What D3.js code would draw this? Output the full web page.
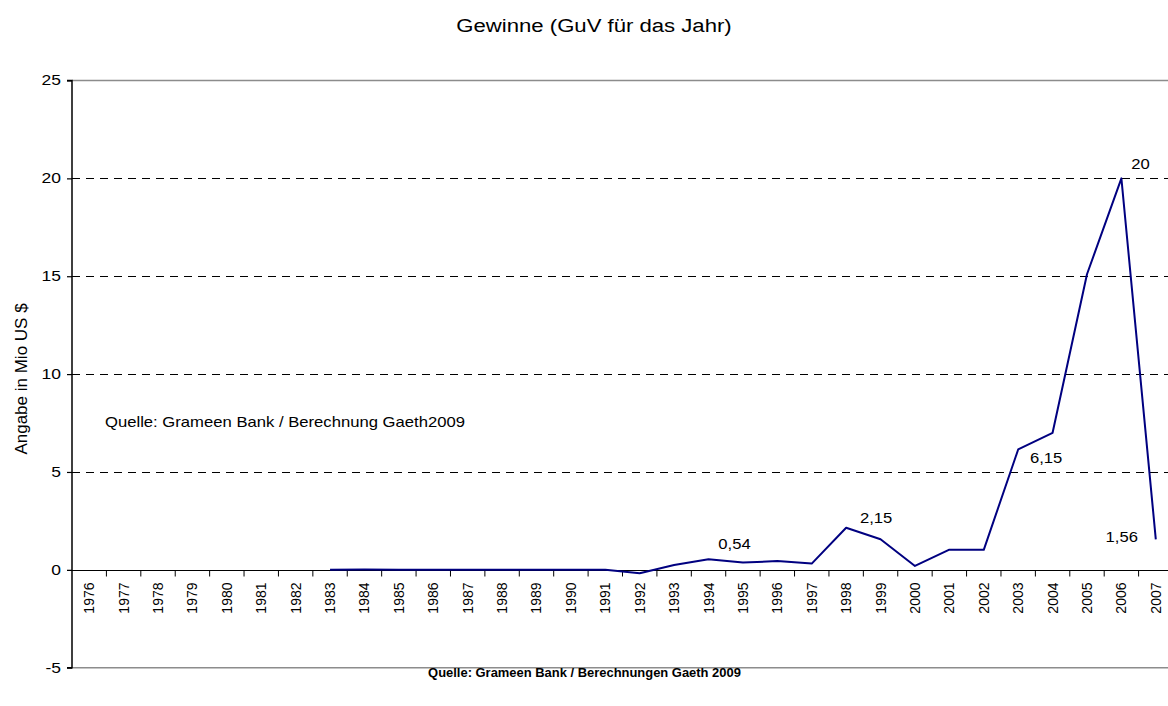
<!DOCTYPE html>
<html>
<head>
<meta charset="utf-8">
<script src="https://cdn.jsdelivr.net/npm/d3@7"></script>
<style>
  html, body { margin: 0; padding: 0; background: #fff; }
  svg { display: block; font-family: "Liberation Sans", Arial, sans-serif; }
</style>
</head>
<body>
<svg id="chart" width="1168" height="706"></svg>
<script>
// Jahre 1976–2007
const years = d3.range(1976, 2008).map(String);

// Gewinn in Mio US $ (null = keine Angabe)
const profits = [
  null, null, null, null, null, null, null,            // 1976–1982
  0.0, 0.02, 0.01, 0.0, 0.0, 0.0, 0.0, 0.0, 0.0,       // 1983–1991
  -0.17, 0.25, 0.54, 0.37, 0.45, 0.32, 2.15, 1.56,     // 1992–1999
  0.2, 1.03, 1.02, 6.15, 7.0, 15.1, 20, 1.56           // 2000–2007
];

// Jahre mit Wertbeschriftung und deren Text
const labelYears = ["1994", "1998", "2003", "2006", "2007"];
const labelTexts = ["0,54", "2,15", "6,15", "20", "1,56"];

const yTicks = [-5, 0, 5, 10, 15, 20, 25];
const gridValues = [5, 10, 15, 20];

const title = "Gewinne (GuV für das Jahr)";
const yTitle = "Angabe in Mio US $";
const noteText = "Quelle: Grameen Bank / Berechnung Gaeth2009";
const footerText = "Quelle: Grameen Bank / Berechnungen Gaeth 2009";

const svg = d3.select("#chart");
const plotLeft = 72, plotRight = 1173, plotTop = 80.5, plotBottom = 667.7;
// horizontale Texte sind etwas breit laufend gesetzt
const wide = 1.19;

const x = d3.scaleBand().domain(years).range([plotLeft, plotRight]).padding(0);
const y = d3.scaleLinear().domain([-5, 25]).range([plotBottom, plotTop]);

function wideText(parent, px, py, txt, size, anchor, sx) {
  return parent.append("text")
    .attr("transform", `translate(${px},${py}) scale(${sx},1)`)
    .attr("text-anchor", anchor)
    .attr("font-size", size)
    .text(txt);
}

// Titel
wideText(svg, 594, 32, title, 18, "middle", 1.23);

// Rahmen oben und unten (grau)
[25, -5].forEach(v => {
  svg.append("line")
    .attr("x1", plotLeft).attr("x2", plotRight)
    .attr("y1", y(v)).attr("y2", y(v))
    .attr("stroke", "#8c8c8c").attr("stroke-width", 1.5);
});

// Gestrichelte Hilfslinien
svg.append("g").selectAll("line").data(gridValues).join("line")
  .attr("x1", plotLeft).attr("x2", plotRight)
  .attr("y1", d => Math.round(y(d)) + 0.5).attr("y2", d => Math.round(y(d)) + 0.5)
  .attr("stroke", "#000").attr("stroke-width", 1)
  .attr("stroke-dasharray", "8,6");

// Y-Achse
const yAxis = d3.axisLeft(y).tickValues(yTicks).tickSize(5).tickPadding(0)
  .tickFormat(d => String(d));
svg.append("g")
  .attr("transform", `translate(${plotLeft},0)`)
  .call(yAxis)
  .call(g => g.select(".domain").attr("stroke", "#000").attr("stroke-width", 1.5)
    .attr("d", `M-5,${plotTop}H0V${plotBottom}H-5`))
  .call(g => g.selectAll("line").attr("stroke", "#000").attr("stroke-width", 1.2))
  .call(g => g.selectAll("text")
    .attr("x", null)
    .attr("transform", `translate(-11,0) scale(${wide + 0.06},1)`)
    .attr("font-size", 14).attr("fill", "#000")
    .attr("font-family", "Liberation Sans, Arial, sans-serif"));

// X-Achse bei 0 mit Teilstrichen an den Kategoriegrenzen
const xAxisG = svg.append("g").attr("transform", `translate(0,${Math.round(y(0)) + 0.5})`);
xAxisG.append("line")
  .attr("x1", plotLeft - 5).attr("x2", plotRight)
  .attr("stroke", "#000").attr("stroke-width", 1.2);
xAxisG.selectAll("line.tick").data(years.slice(1)).join("line")
  .attr("class", "tick")
  .attr("x1", d => x(d)).attr("x2", d => x(d))
  .attr("y1", 0).attr("y2", 6)
  .attr("stroke", "#000").attr("stroke-width", 1);
xAxisG.selectAll("text").data(years).join("text")
  .attr("transform", d => `translate(${x(d) + x.bandwidth() / 2 + 5},${12}) rotate(-90)`)
  .attr("text-anchor", "end")
  .attr("font-size", 14)
  .text(d => d);

// Y-Achsentitel
svg.append("text")
  .attr("transform", `translate(27,379) rotate(-90)`)
  .attr("text-anchor", "middle")
  .attr("font-size", 17)
  .text(yTitle);

// Quellenhinweis im Diagramm
wideText(svg, 105, 427, noteText, 14, "start", wide);

// Gewinnlinie
const series = years.map((yr, i) => ({ year: yr, value: profits[i] }));
const line = d3.line()
  .defined(d => d.value !== null)
  .x(d => x(d.year) + x.bandwidth() / 2)
  .y(d => y(d.value));
svg.append("path")
  .datum(series)
  .attr("fill", "none")
  .attr("stroke", "#000080")
  .attr("stroke-width", 2)
  .attr("stroke-linejoin", "round")
  .attr("d", line);

// Wertbeschriftungen
const labelOffsets = {
  "1994": [26, -10],
  "1998": [30, -4.5],
  "2003": [28, 14],
  "2006": [19, -9],
  "2007": [-34, 3]
};
labelYears.forEach((yr, i) => {
  const v = profits[years.indexOf(yr)];
  const off = labelOffsets[yr];
  wideText(svg, x(yr) + x.bandwidth() / 2 + off[0], y(v) + off[1],
    labelTexts[i], 14, "middle", wide);
});

// Fußzeile
wideText(svg, 584.5, 677, footerText, 12, "middle", 1.08)
  .attr("font-weight", "bold");
</script>
</body>
</html>
